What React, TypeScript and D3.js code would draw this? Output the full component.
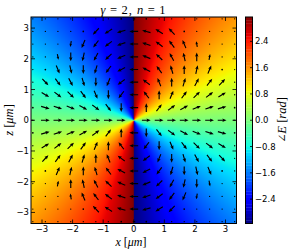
import React, { useMemo } from 'react';
import * as d3 from 'd3';

// axis ticks
const X_TICKS = [-3, -2, -1, 0, 1, 2, 3];
const Z_TICKS = [-3, -2, -1, 0, 1, 2, 3];
const CBAR_TICKS = [-2.4, -1.6, -0.8, 0, 0.8, 1.6, 2.4];

// quiver grid positions (same for x and z)
const GRID = [-3.3, -2.89, -2.48, -2.06, -1.65, -1.24, -0.83, -0.41, 0, 0.41, 0.83, 1.24, 1.65, 2.06, 2.48, 2.89, 3.3];

// relative |E|, 0..9, rows from z=+3.3 down to z=-3.3
const MAGNITUDE_ROWS = [
  '11111112321111111',
  '11112999999921111',
  '11169999999996111',
  '11699999999999611',
  '12999999999999921',
  '19999999999999991',
  '19999999999999991',
  '29999999999999992',
  '39999999099999993',
  '29999999999999992',
  '19999999999999991',
  '19999999999999991',
  '12999999999999921',
  '11699999999999611',
  '11169999999996111',
  '11112999999921111',
  '11111112321111111',
];

// phase winding of the field (gamma = 2)
const CHARGE = 2;
const TITLE_GAMMA = 2;
const TITLE_N = 1;

// matplotlib "jet"
const jetR = d3.scaleLinear().domain([0, 0.35, 0.66, 0.89, 1]).range([0, 0, 1, 1, 0.5]).clamp(true);
const jetG = d3.scaleLinear().domain([0, 0.125, 0.375, 0.64, 0.91, 1]).range([0, 0, 1, 1, 0, 0]).clamp(true);
const jetB = d3.scaleLinear().domain([0, 0.11, 0.34, 0.65, 1]).range([0.5, 1, 1, 0, 0]).clamp(true);

const phaseNorm = d3.scaleLinear().domain([-Math.PI, Math.PI]).range([0, 1]).clamp(true);

function jet(v: number): [number, number, number] {
  const t = phaseNorm(v);
  return [Math.round(jetR(t) * 255), Math.round(jetG(t) * 255), Math.round(jetB(t) * 255)];
}

function phase(x: number, z: number) {
  let a = CHARGE * Math.atan2(z, x);
  while (a > Math.PI) a -= 2 * Math.PI;
  while (a <= -Math.PI) a += 2 * Math.PI;
  return a;
}

const fmt = (v: number, d: number) => (v < 0 ? '\u2212' : '') + Math.abs(v).toFixed(d);

function arrowPoints(len: number) {
  const w = 1.15;
  const hl = Math.min(4.2, len * 0.55);
  const hal = hl * 0.85;
  const hw = Math.max(w, 3.5 * (hl / 4.2));
  const a = -len / 2;
  const b = len / 2;
  return [
    [a, -w / 2], [b - hal, -w / 2], [b - hl, -hw / 2], [b, 0],
    [b - hl, hw / 2], [b - hal, w / 2], [a, w / 2],
  ].map(p => p.join(',')).join(' ');
}

export default function App() {
  const width = 291;
  const height = 252;
  const left = 31, right = 236.5, top = 17, bottom = 223.5;
  const cbLeft = 245.5, cbRight = 252.5;

  const x = d3.scaleLinear().domain([-3.36, 3.36]).range([left, right]);
  const z = d3.scaleLinear().domain([-3.36, 3.36]).range([bottom, top]);
  const cb = d3.scaleLinear().domain([-Math.PI, Math.PI]).range([bottom, top]);

  const image = useMemo(() => {
    const w = Math.round(right - left);
    const h = Math.round(bottom - top);
    const canvas = document.createElement('canvas');
    canvas.width = w;
    canvas.height = h;
    const ctx = canvas.getContext('2d');
    if (!ctx) return '';
    const img = ctx.createImageData(w, h);
    for (let j = 0; j < h; j++) {
      for (let i = 0; i < w; i++) {
        const xv = x.invert(left + (i + 0.5) * (right - left) / w);
        const zv = z.invert(top + (j + 0.5) * (bottom - top) / h);
        const [r, g, b] = jet(phase(xv, zv));
        const k = (j * w + i) * 4;
        img.data[k] = r; img.data[k + 1] = g; img.data[k + 2] = b; img.data[k + 3] = 255;
      }
    }
    ctx.putImageData(img, 0, 0);
    return canvas.toDataURL();
  }, []);

  const arrows: any[] = [];
  MAGNITUDE_ROWS.forEach((row, r) => {
    const zv = GRID[GRID.length - 1 - r];
    row.split('').forEach((ch, c) => {
      const xv = GRID[c];
      const mag = +ch / 9;
      if (mag === 0) return;
      const px = x(xv), py = z(zv);
      if (mag < 0.3) {
        arrows.push(<circle key={`${r}-${c}`} cx={px} cy={py} r={0.45 + mag * 1.8} fill="#000" />);
        return;
      }
      const ang = -phase(xv, zv) * 180 / Math.PI;
      arrows.push(
        <polygon key={`${r}-${c}`} points={arrowPoints(mag * 8.8)}
          transform={`translate(${px},${py}) rotate(${ang})`} fill="#000" />
      );
    });
  });

  const bands = d3.range(64).map(i => {
    const v0 = -Math.PI + (i / 64) * 2 * Math.PI;
    const v1 = -Math.PI + ((i + 1) / 64) * 2 * Math.PI;
    const [r, g, b] = jet((v0 + v1) / 2);
    return <rect key={i} x={cbLeft} y={cb(v1)} width={cbRight - cbLeft} height={cb(v0) - cb(v1) + 0.3}
      fill={`rgb(${r},${g},${b})`} />;
  });

  const tickFont = { fontFamily: 'DejaVu Sans', fontSize: 8.5 };
  const serif = 'Liberation Serif';

  return (
    <svg width={width} height={height} style={{ position: 'absolute', left: 0, top: 0, background: '#fff' }}>
      <defs>
        <clipPath id="axclip"><rect x={left} y={top} width={right - left} height={bottom - top} /></clipPath>
      </defs>
      <image href={image} x={left} y={top} width={right - left} height={bottom - top} preserveAspectRatio="none" />
      <g clipPath="url(#axclip)">{arrows}</g>
      <rect x={left} y={top} width={right - left} height={bottom - top} fill="none" stroke="#000" strokeWidth={1} />
      {X_TICKS.map(t => (
        <g key={'x' + t}>
          <line x1={x(t)} x2={x(t)} y1={bottom} y2={bottom - 4} stroke="#000" strokeWidth={0.8} />
          <line x1={x(t)} x2={x(t)} y1={top} y2={top + 4} stroke="#000" strokeWidth={0.8} />
          <text x={x(t)} y={231.8} textAnchor="middle" {...tickFont}>{fmt(t, 0)}</text>
        </g>
      ))}
      {Z_TICKS.map(t => (
        <g key={'z' + t}>
          <line x1={left} x2={left + 4} y1={z(t)} y2={z(t)} stroke="#000" strokeWidth={0.8} />
          <line x1={right} x2={right - 4} y1={z(t)} y2={z(t)} stroke="#000" strokeWidth={0.8} />
          <text x={29} y={z(t) + 3} textAnchor="end" {...tickFont}>{fmt(t, 0)}</text>
        </g>
      ))}
      <text x={133} y={14} textAnchor="middle" fontFamily={serif} fontSize={12.5} textLength={65} lengthAdjust="spacing">
        <tspan fontStyle="italic">γ</tspan>{`\u2009=\u2009${TITLE_GAMMA},\u00a0`}<tspan fontStyle="italic">n</tspan>{`\u2009=\u2009${TITLE_N}`}
      </text>
      <text x={131} y={245.5} textAnchor="middle" fontFamily={serif} fontSize={12}>
        <tspan fontStyle="italic">x</tspan> [<tspan fontStyle="italic">μm</tspan>]
      </text>
      <text transform={`translate(13,120) rotate(-90)`} textAnchor="middle" fontFamily={serif} fontSize={12.5}>
        <tspan fontStyle="italic">z</tspan> [<tspan fontStyle="italic">μm</tspan>]
      </text>
      {bands}
      <rect x={cbLeft} y={top} width={cbRight - cbLeft} height={bottom - top} fill="none" stroke="#000" strokeWidth={1} />
      {CBAR_TICKS.map(t => (
        <g key={'c' + t}>
          <line x1={cbRight} x2={cbRight - 2.5} y1={cb(t)} y2={cb(t)} stroke="#000" strokeWidth={0.8} />
          <text x={255} y={cb(t) + 3} {...tickFont}>{fmt(t, 1)}</text>
        </g>
      ))}
      <text transform={`translate(286,120) rotate(-90)`} textAnchor="middle" fontFamily={serif} fontSize={12.5}>
        <tspan fontFamily="DejaVu Serif" fontSize={11}>∠</tspan><tspan fontStyle="italic">E</tspan> [<tspan fontStyle="italic">rad</tspan>]
      </text>
    </svg>
  );
}
